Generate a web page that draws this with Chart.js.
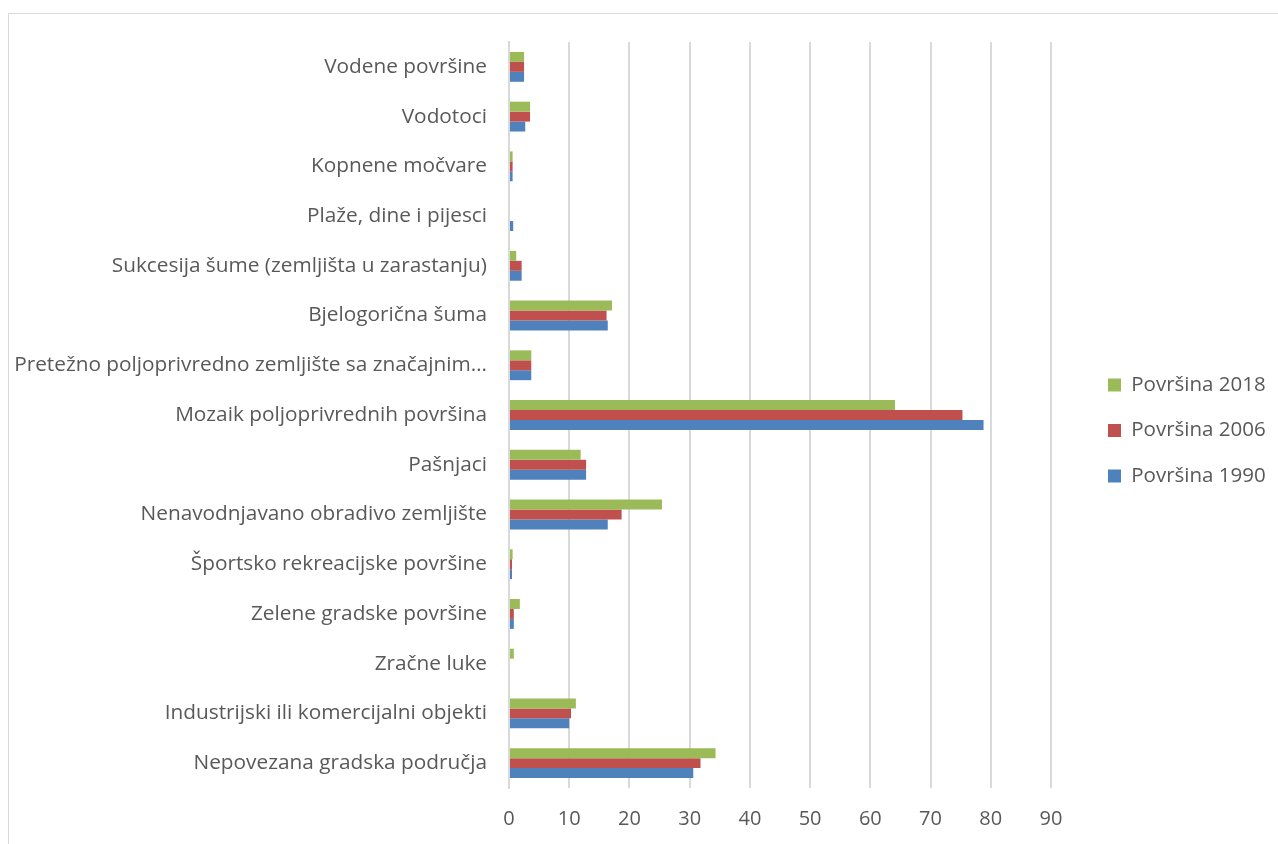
<!DOCTYPE html>
<html lang="hr">
<head>
  <meta charset="UTF-8">
  <title>Površine</title>
  <script src="https://cdn.jsdelivr.net/npm/chart.js"></script>
  <style>
    body { margin: 0; background: #fff; }
    #frame { position: absolute; left: 8px; top: 13px; width: 1290px; height: 850px; border: 1px solid #d9d9d9; }
    #wrap { position: absolute; left: 0; top: 0; width: 1278px; height: 844px; }
  </style>
</head>
<body>
  <div id="frame"></div>
  <div id="wrap">
    <canvas id="chart"></canvas>
  </div>

  <script>
    // categories, bottom to top as in the source chart
    const categories = [
      'Nepovezana gradska područja',
      'Industrijski ili komercijalni objekti',
      'Zračne luke',
      'Zelene gradske površine',
      'Športsko rekreacijske površine',
      'Nenavodnjavano obradivo zemljište',
      'Pašnjaci',
      'Mozaik poljoprivrednih površina',
      'Pretežno poljoprivredno zemljište sa značajnim…',
      'Bjelogorična šuma',
      'Sukcesija šume (zemljišta u zarastanju)',
      'Plaže, dine i pijesci',
      'Kopnene močvare',
      'Vodotoci',
      'Vodene površine'
    ];
    const povrsina2018 = [34.3, 11.1, 0.8, 1.8, 0.6, 25.4, 11.9, 64.1, 3.7, 17.1, 1.2, 0, 0.6, 3.5, 2.5];
    const povrsina2006 = [31.8, 10.3, 0, 0.8, 0.5, 18.7, 12.8, 75.3, 3.7, 16.2, 2.1, 0, 0.6, 3.5, 2.5];
    const povrsina1990 = [30.6, 10.0, 0, 0.8, 0.5, 16.4, 12.8, 78.8, 3.7, 16.4, 2.1, 0.7, 0.6, 2.7, 2.5];
    const xTicks = [0, 10, 20, 30, 40, 50, 60, 70, 80, 90];

    const textColor = '#595959';
    const fontFamily = '"Open Sans", "Liberation Sans", sans-serif';

    // keep the legend at a fixed width and nudge it, like the original
    const legendPlace = {
      id: 'legendPlace',
      beforeInit(chart) {
        const fit = chart.legend.fit;
        chart.legend.fit = function () {
          fit.bind(chart.legend)();
          this.width = 227;
        };
      },
      afterLayout(chart) {
        chart.legend.left += 32;
        chart.legend.right += 32;
        chart.legend.top -= 5;
        chart.legend.bottom -= 5;
      }
    };

    new Chart(document.getElementById('chart'), {
      type: 'bar',
      data: {
        labels: categories,
        datasets: [
          { label: 'Površina 2018', data: povrsina2018, backgroundColor: '#9BBB59' },
          { label: 'Površina 2006', data: povrsina2006, backgroundColor: '#C0504D' },
          { label: 'Površina 1990', data: povrsina1990, backgroundColor: '#4F81BD' }
        ]
      },
      options: {
        indexAxis: 'y',
        responsive: true,
        maintainAspectRatio: false,
        animation: false,
        categoryPercentage: 0.6,
        barPercentage: 1.0,
        layout: { padding: { top: 42, bottom: 15, left: 0, right: 0 } },
        scales: {
          x: {
            min: 0,
            max: 90,
            afterBuildTicks(scale) { scale.ticks = xTicks.map(v => ({ value: v })); },
            afterFit(scale) { scale.height = 41; },
            grid: { color: '#d9d9d9', lineWidth: 2, drawTicks: false },
            border: { display: false },
            ticks: { color: textColor, padding: 19, font: { family: fontFamily, size: 20 } }
          },
          y: {
            reverse: true,
            afterFit(scale) { scale.width = 509; },
            grid: { display: false, drawTicks: false },
            border: { color: '#d9d9d9', width: 2 },
            ticks: { color: textColor, padding: 22, autoSkip: false, font: { family: fontFamily, size: 20.8 } }
          }
        },
        plugins: {
          legend: {
            position: 'right',
            labels: {
              color: textColor,
              boxWidth: 13,
              boxHeight: 13,
              padding: 25,
              font: { family: fontFamily, size: 20.5 }
            }
          },
          tooltip: { enabled: false }
        }
      },
      plugins: [legendPlace]
    });
  </script>
</body>
</html>
